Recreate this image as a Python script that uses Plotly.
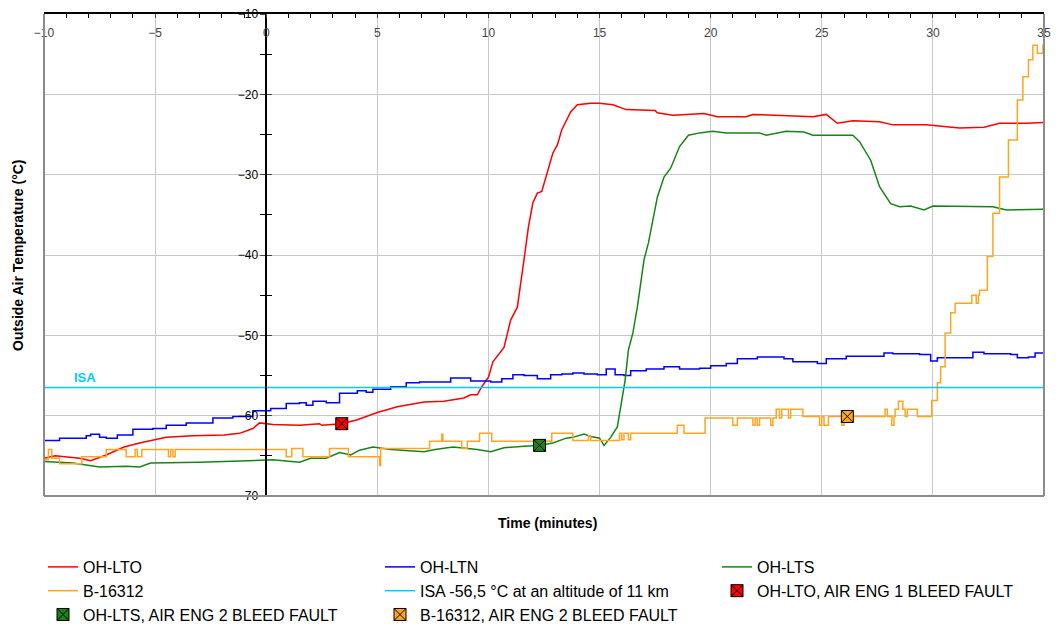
import plotly.graph_objects as go

# ---------------- data ----------------
lto_t = [-10, -9.5, -8.4, -7.9, -7.2, -6.4, -5.7, -4.5, -3.3, -1.9, -1.2, -0.6, -0.3, 0.3, 1.5, 2.4, 2.5, 3.2, 3.4,
         4.1, 5.0, 5.9, 7.1, 8.0, 8.9, 9.2, 9.5, 9.7, 10.0, 10.2, 10.5, 10.7, 11.0, 11.3, 11.6, 11.8, 12.0, 12.2, 12.4,
         12.6, 12.9, 13.1, 13.3, 13.7, 14.0, 14.6, 15.0, 15.6, 16.2, 17.5, 17.6, 18.3, 19.7, 20.3, 21.6, 21.9, 23.7,
         24.6, 25.2, 25.7, 26.4, 27.6, 28.2, 29.7, 31.2, 32.3, 33.0, 34.2, 35.0]
lto_v = [-65.3, -65.0, -65.3, -65.6, -64.9, -63.9, -63.4, -62.7, -62.5, -62.4, -62.2, -61.6, -60.9, -61.1, -61.2, -61.0,
         -61.2, -61.1, -61.0, -60.5, -59.6, -58.9, -58.3, -58.2, -57.8, -57.4, -57.4, -56.4, -55.2, -53.3, -52.2, -51.5,
         -48.1, -46.5, -40.6, -36.5, -33.5, -32.3, -32.1, -30.3, -27.3, -26.3, -24.4, -22.2, -21.3, -21.1, -21.1, -21.3,
         -21.9, -22.0, -22.3, -22.6, -22.4, -22.8, -22.8, -22.5, -22.7, -22.8, -22.5, -23.6, -23.3, -23.4, -23.8, -23.8,
         -24.2, -24.1, -23.6, -23.6, -23.5]

ltn_t = [-10, -9.3, -8.1, -7.9, -7.5, -7.2, -6.7, -6.0, -5.1, -4.5, -3.6, -2.4, -1.5, -0.6, 0.2, 0.9, 1.5, 1.8, 2.1,
         2.7, 3.3, 4.1, 4.5, 4.8, 5.6, 6.3, 6.9, 7.5, 8.3, 9.2, 10.1, 10.6, 11.1, 11.6, 12.2, 12.8, 13.3, 13.8, 14.3,
         14.9, 15.3, 15.7, 16.1, 16.4, 17.1, 17.9, 18.6, 19.5, 20.0, 20.7, 21.2, 22.1, 23.3, 23.7, 24.8, 25.2, 26.1,
         26.9, 27.8, 28.2, 29.4, 29.9, 30.2, 31.1, 31.8, 32.3, 33.5, 33.8, 34.3, 34.6, 35.0]
ltn_v = [-63.1, -62.8, -62.5, -62.3, -62.7, -62.8, -62.4, -61.7, -61.6, -61.2, -60.9, -60.3, -60.1, -59.4, -59.1, -58.5,
         -58.4, -58.7, -58.2, -58.4, -57.2, -56.9, -57.1, -56.7, -56.4, -55.9, -55.8, -55.8, -55.3, -55.7, -55.8, -55.4,
         -54.9, -55.0, -55.4, -54.9, -54.8, -54.7, -54.8, -54.9, -54.2, -54.9, -55.0, -54.4, -54.2, -53.9, -54.2, -54.1,
         -53.8, -53.5, -52.9, -52.7, -52.9, -53.3, -53.5, -52.9, -52.6, -52.6, -52.2, -52.3, -52.4, -53.2, -52.8, -52.8,
         -52.1, -52.3, -52.4, -52.8, -52.7, -52.2, -52.6]

lts_t = [-10, -8.7, -7.5, -6.3, -5.7, -5.2, -3.0, -2.1, 0.3, 1.5, 2.0, 2.7, 3.3, 3.8, 4.2, 4.8, 5.6, 7.1, 7.6, 8.4,
         8.9, 9.5, 10.1, 10.7, 11.6, 12.3, 12.9, 13.5, 13.8, 14.3, 14.6, 15.0, 15.2, 15.5, 15.8, 15.9, 16.15, 16.3,
         16.5, 16.7, 17.0, 17.2, 17.6, 17.9, 18.2, 18.6, 19.0, 19.5, 20.1, 20.7, 22.2, 22.5, 23.4, 24.2, 24.6, 26.4,
         26.7, 27.2, 27.6, 28.1, 28.5, 29.0, 29.6, 30.0, 32.7, 33.3, 34.5, 35.0]
lts_v = [-65.7, -65.9, -66.4, -66.3, -66.4, -65.9, -65.8, -65.7, -65.5, -65.8, -65.3, -65.3, -64.6, -64.9, -64.3, -63.9,
         -64.2, -64.5, -64.2, -63.9, -64.0, -64.2, -64.5, -64.0, -63.8, -63.7, -63.4, -62.8, -62.7, -62.3, -62.6, -62.8,
         -63.7, -62.7, -61.4, -59.7, -55.6, -51.8, -49.7, -46.5, -40.6, -38.5, -32.8, -30.3, -29.2, -26.5, -25.1, -24.8,
         -24.6, -24.8, -24.8, -25.1, -24.6, -24.7, -25.1, -25.1, -25.9, -28.2, -31.5, -33.6, -34.0, -33.9, -34.4, -33.9,
         -34.0, -34.4, -34.3, -34.3]

b16_t = [-10, -9.8, -9.65, -9.3, -8.3, -7.2, -6.3, -5.9, -5.8, -5.6, -4.4, -4.3, -4.2, -4.1, 0.9, 1.15, 1.65, 2.85,
         3.7, 5.1, 5.15, 7.35, 7.9, 7.95, 8.8, 9.05, 9.6, 10.15, 12.85, 13.8, 14.5, 14.6, 15.9, 16.0, 16.1, 16.3, 16.4,
         18.5, 18.8, 19.75, 21.0, 21.2, 21.9, 22.0, 22.1, 22.2, 22.7, 22.8, 22.95, 23.1, 23.2, 23.5, 23.6, 24.15, 24.9,
         25.0, 25.1, 25.3, 25.9, 26.0, 27.85, 27.95, 28.15, 28.25, 28.3, 28.45, 28.65, 28.75, 28.85, 29.3, 29.95, 30.2,
         30.35, 30.55, 30.8, 31.0, 31.75, 31.95, 32.05, 32.1, 32.45, 32.7, 33.0, 33.4, 33.8, 34.05, 34.3, 34.5, 34.7,
         34.95, 35.0]
b16_v = [-65.5, -64.2, -65.3, -66.0, -65.1, -64.2, -65.1, -64.2, -65.1, -64.2, -65.1, -64.2, -65.1, -64.2, -65.1, -64.1,
         -65.1, -64.1, -65.1, -66.2, -64.1, -63.2, -62.3, -63.2, -64.1, -63.2, -62.2, -63.2, -62.2, -63.1, -62.5, -63.1,
         -62.2, -63.0, -62.2, -63.0, -62.2, -61.2, -62.2, -60.3, -61.2, -60.3, -61.2, -60.3, -61.2, -60.3, -61.2, -60.3,
         -59.2, -60.3, -59.2, -60.3, -59.2, -60.1, -61.2, -60.1, -61.2, -60.1, -61.2, -60.1, -59.2, -60.1, -61.2, -60.1,
         -59.2, -58.2, -59.2, -60.1, -59.2, -60.1, -58.1, -55.9, -53.9, -49.7, -47.2, -46.0, -45.0, -46.0, -45.0, -44.4,
         -40.2, -34.8, -30.3, -25.7, -20.7, -17.8, -15.7, -13.9, -14.9, -13.9, -11.0]

isa_t = [-10, 35]
isa_v = [-56.5, -56.5]

fault_lto = ([3.4], [-61.0])
fault_lts = ([12.3], [-63.7])
fault_b16 = ([26.15], [-60.1])

x_ticks = [-10, -5, 0, 5, 10, 15, 20, 25, 30, 35]
y_ticks = [-70, -60, -50, -40, -30, -20, -10]

# ---------------- figure ----------------
FONT = "Liberation Sans, Arial, sans-serif"
RED, BLUE, GREEN, ORANGE, CYAN = "#FF0000", "#0000FF", "#178417", "#FFA520", "#00CCFF"

fig = go.Figure()
fig.add_trace(go.Scatter(x=lto_t, y=lto_v, mode="lines", name="OH-LTO", legend="legend",
                         line=dict(color=RED, width=1.5)))
fig.add_trace(go.Scatter(x=ltn_t, y=ltn_v, mode="lines", name="OH-LTN", legend="legend2",
                         line=dict(color=BLUE, width=1.5, shape="hv")))
fig.add_trace(go.Scatter(x=lts_t, y=lts_v, mode="lines", name="OH-LTS", legend="legend3",
                         line=dict(color=GREEN, width=1.5)))
fig.add_trace(go.Scatter(x=b16_t, y=b16_v, mode="lines", name="B-16312", legend="legend",
                         line=dict(color=ORANGE, width=1.5, shape="hv")))
fig.add_trace(go.Scatter(x=isa_t, y=isa_v, mode="lines", name="ISA -56,5 °C at an altitude of 11 km",
                         legend="legend2", line=dict(color=CYAN, width=1.5)))
for (xs, ys), col, nm, lg in [(fault_lto, RED, "OH-LTO, AIR ENG 1 BLEED FAULT", "legend3"),
                              (fault_lts, GREEN, "OH-LTS, AIR ENG 2 BLEED FAULT", "legend"),
                              (fault_b16, ORANGE, "B-16312, AIR ENG 2 BLEED FAULT", "legend2")]:
    fig.add_trace(go.Scatter(x=xs, y=ys, mode="markers", name=nm, legend=lg,
                             marker=dict(symbol="square-x", size=12, color=col,
                                         line=dict(color="black", width=1))))
# dummy trace for the crossing-tick overlay axis
fig.add_trace(go.Scatter(x=[None], y=[None], yaxis="y2", showlegend=False, hoverinfo="skip"))

LEG_Y = -0.112
def leg(x):
    return dict(orientation="v", x=x, y=LEG_Y, xanchor="left", yanchor="top",
                font=dict(family=FONT, size=16, color="black"), itemwidth=30,
                tracegroupgap=0, bgcolor="rgba(0,0,0,0)")

# the page body has an 8px offset, so the figure is 8px smaller and margins shifted
fig.update_layout(
    width=1055, height=618,
    margin=dict(l=36, r=19, t=6, b=130, autoexpand=False),
    paper_bgcolor="white", plot_bgcolor="white",
    font=dict(family=FONT, size=12, color="black"),
    showlegend=True,
    legend=leg(-0.001), legend2=leg(0.336), legend3=leg(0.673),
    xaxis=dict(range=[-10, 35], side="top", tickvals=x_ticks, ticks="inside", ticklen=4,
               ticklabelposition="inside", ticklabeloverflow="allow", ticklabelstandoff=10,
               automargin=False, showline=True, linecolor="black", linewidth=1.5,
               showgrid=True, gridcolor="#C8C8C8", gridwidth=1, zeroline=False,
               tickfont=dict(size=12),
               minor=dict(dtick=1, ticks="inside", ticklen=4, tickcolor="black", showgrid=False)),
    yaxis=dict(range=[-70, -10], tickvals=y_ticks, anchor="free", position=10 / 45,
               ticks="outside", ticklen=5, ticklabeloverflow="allow", automargin=False,
               showline=True, linecolor="black", linewidth=1.5,
               showgrid=True, gridcolor="#C8C8C8", gridwidth=1, zeroline=False,
               tickfont=dict(size=12),
               minor=dict(dtick=5, ticks="outside", ticklen=5, tickcolor="black", showgrid=False)),
    yaxis2=dict(range=[-70, -10], tickvals=y_ticks, overlaying="y", anchor="free", position=10 / 45,
                ticks="inside", ticklen=5, showticklabels=False, showline=False, showgrid=False,
                zeroline=False, automargin=False,
                minor=dict(dtick=5, ticks="inside", ticklen=5, tickcolor="black")),
)

# plot frame (left, bottom, right)
for x0, y0, x1, y1 in [(0, 0, 0, 1), (0, 0, 1, 0), (1, 0, 1, 1)]:
    fig.add_shape(type="line", xref="paper", yref="paper", x0=x0, y0=y0, x1=x1, y1=y1,
                  line=dict(color="#8C8C8C", width=2), layer="above")

fig.add_annotation(text="ISA", x=-8.15, y=-55.3, xref="x", yref="y", showarrow=False,
                   xanchor="center", yanchor="middle",
                   font=dict(family=FONT, size=13, color=CYAN, weight="bold"))
fig.add_annotation(text="<b>Time (minutes)</b>", x=0.503, y=-0.056, xref="paper", yref="paper",
                   showarrow=False, xanchor="center", yanchor="middle", font=dict(family=FONT, size=14))
fig.add_annotation(text="<b>Outside Air Temperature (°C)</b>", x=-0.026, y=0.5, xref="paper", yref="paper",
                   showarrow=False, textangle=-90, xanchor="center", yanchor="middle",
                   font=dict(family=FONT, size=14))

fig.write_html("out.html")
